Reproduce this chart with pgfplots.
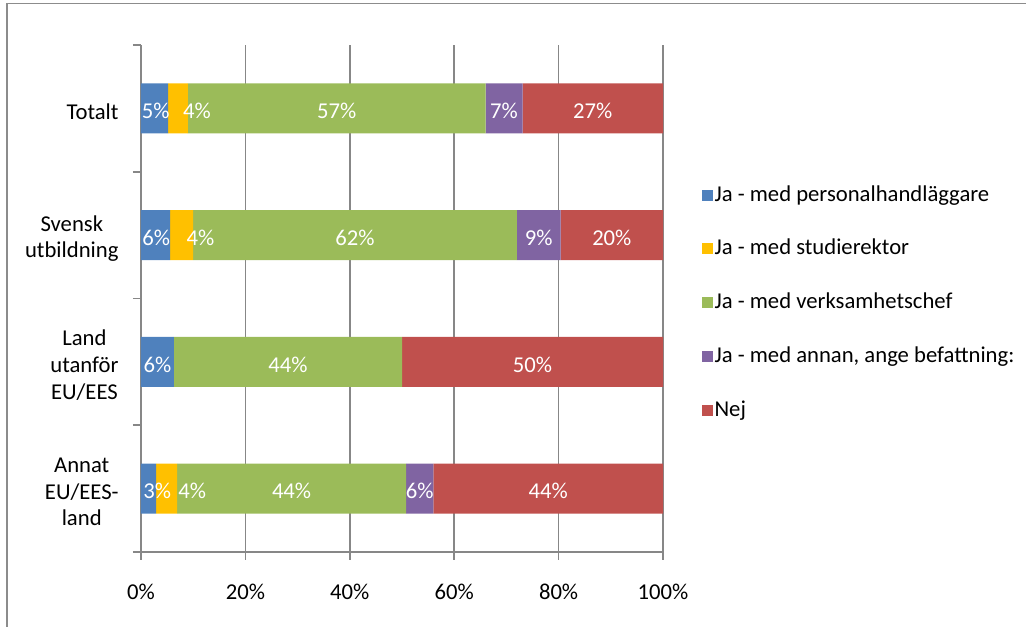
\documentclass[border=0pt]{standalone}
\usepackage{pgfplots}
\usepackage{pgfplotstable}
\pgfplotsset{compat=1.18}
\usepackage{fontspec}
\setmainfont{Carlito}
\definecolor{cblue}{HTML}{4F81BD}
\definecolor{cyellow}{HTML}{FFC000}
\definecolor{cgreen}{HTML}{9BBB59}
\definecolor{cpurple}{HTML}{8064A2}
\definecolor{cred}{HTML}{C0504D}
\definecolor{cgrid}{HTML}{878787}
\definecolor{cborder}{HTML}{8C8C8C}
\pgfplotstableread{
y a b c d e
0 2.9 4.0 43.9 5.2 44.0
1 6.3 0 43.7 0 50.0
2 5.6 4.4 62.0 8.4 19.6
3 5.2 3.8 57.0 7.1 26.9
}\data
\pgfplotstableread{
x y v
2.8 3 5
10.7 3 4
37.5 3 57
69.55 3 7
86.55 3 27
2.9 2 6
11.4 2 4
41 2 62
76.2 2 9
90.2 2 20
3.15 1 6
28.15 1 44
75 1 50
3.1 0 3
9.8 0 4
28.85 0 44
53.4 0 6
78 0 44
}\labels
\begin{document}
\fontsize{17pt}{19pt}\selectfont
\begin{tikzpicture}
\useasboundingbox (0,0) rectangle (769.5pt,470.25pt);
\draw[cborder, line width=1.2pt] (5.25pt,-5pt) -- (5.25pt,467.5pt) -- (775pt,467.5pt);
\begin{axis}[
  at={(105.75pt,56.25pt)}, anchor=south west,
  scale only axis, width=391.5pt, height=380.25pt,
  xbar stacked, bar width=37.5pt,
  xmin=0, xmax=100, ymin=-0.5, ymax=3.5,
  axis x line*=bottom, axis y line*=left,
  axis line style={cgrid, line width=1.2pt},
  tick align=outside,
  major tick length=6pt,
  tick style={cgrid, line width=1.2pt},
  xtick={0,20,40,60,80,100},
  /pgf/number format/assume math mode=true,
  xticklabel={\pgfmathprintnumber{\tick}\%},
  xmajorgrids, grid style={cgrid, line width=1.2pt},
  ytick={-0.5,0.5,1.5,2.5,3.5}, yticklabels={},
  extra y ticks={0,1,2,3},
  extra y tick labels={{Annat\\EU/EES-\\land},{Land\\utanför\\EU/EES},{Svensk\\utbildning},{Totalt}},
  extra y tick style={major tick length=0pt, grid=none, yticklabel style={align=center, yshift=-2.5pt}},
  ticklabel style={font=\fontsize{17pt}{20pt}\selectfont},
  xticklabel style={yshift=-12pt},
  yticklabel style={xshift=-11pt},
  legend image code/.code={\fill[#1] (0pt,-4.125pt) rectangle (8.25pt,4.125pt);},
  legend cell align=left,
  legend style={at={(1.0747,0.492)}, anchor=west, draw=none, fill=none,
    font=\fontsize{17pt}{19pt}\selectfont, row sep=24pt, inner sep=0pt,
    nodes={inner sep=1pt},
    /tikz/every even column/.append style={column sep=2.5pt}},
]
\addplot[fill=cblue, draw=none] table[x=a, y=y] {\data};
\addplot[fill=cyellow, draw=none] table[x=b, y=y] {\data};
\addplot[fill=cgreen, draw=none] table[x=c, y=y] {\data};
\addplot[fill=cpurple, draw=none] table[x=d, y=y] {\data};
\addplot[fill=cred, draw=none] table[x=e, y=y] {\data};
\legend{Ja - med personalhandläggare, Ja - med studierektor, Ja - med verksamhetschef, {Ja - med annan, ange befattning:}, Nej}
\end{axis}
\begin{axis}[
  at={(105.75pt,56.25pt)}, anchor=south west,
  scale only axis, width=391.5pt, height=380.25pt,
  xmin=0, xmax=100, ymin=-0.5, ymax=3.5,
  hide axis, clip=false,
  /pgf/number format/assume math mode=true,
]
\addplot[draw=none, mark=none, point meta=explicit,
  nodes near coords={\pgfmathprintnumber[fixed,precision=0]{\pgfplotspointmeta}\%},
  every node near coord/.append style={anchor=center, text=white, inner sep=0pt, yshift=-2pt,
    font=\fontsize{17pt}{19pt}\selectfont}]
  table[x=x, y=y, meta=v] {\labels};
\end{axis}
\end{tikzpicture}
\end{document}
